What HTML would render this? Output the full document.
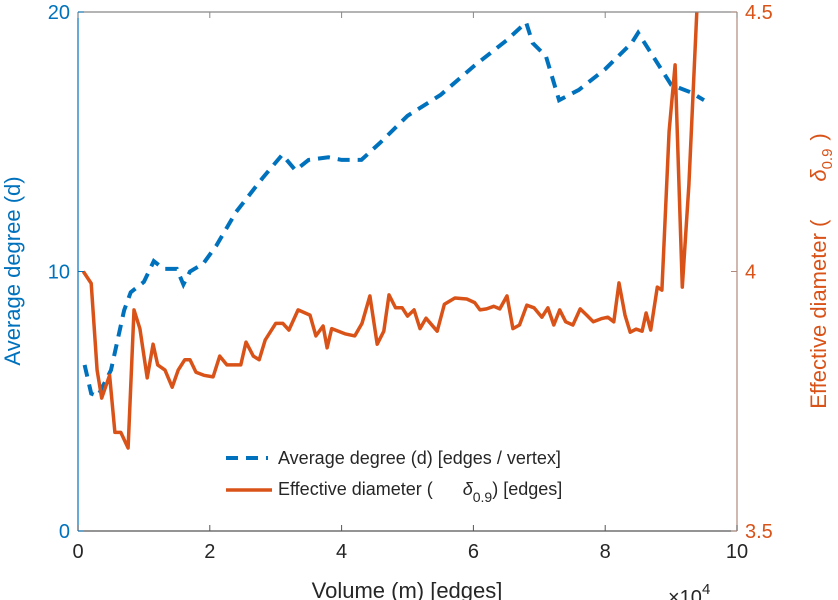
<!DOCTYPE html>
<html><head><meta charset="utf-8"><style>
html,body{margin:0;padding:0;background:#fff;}
svg{display:block;font-family:"Liberation Sans",sans-serif;}
</style></head><body>
<svg id="chart" width="838" height="600" viewBox="0 0 838 600">
<defs><clipPath id="clip"><rect x="78" y="12" width="659" height="519"/></clipPath></defs>
<g id="marks" clip-path="url(#clip)"></g>
<g id="axes"></g>
</svg>
<script>
const xTicks=[0,2,4,6,8,10];
const leftTicks=[0,10,20];
const rightTicks=[3.5,4,4.5];
const degX=[0.1,0.2,0.3,0.5,0.7,0.8,1.0,1.15,1.3,1.5,1.6,1.7,1.9,2.1,2.4,2.8,3.1,3.3,3.5,3.8,4.0,4.3,4.6,5.0,5.5,6.0,6.5,6.8,6.9,7.1,7.3,7.6,8.0,8.4,8.5,8.7,9.0,9.3,9.5];
const degY=[6.4,5.3,5.2,6.2,8.5,9.2,9.6,10.4,10.1,10.1,9.5,10.0,10.3,11.0,12.3,13.6,14.5,13.9,14.3,14.4,14.3,14.3,15.0,16.0,16.8,17.9,18.9,19.6,18.8,18.3,16.6,17.0,17.8,18.8,19.2,18.4,17.2,16.9,16.6];
const diaX=[0.08,0.2,0.29,0.36,0.48,0.56,0.65,0.76,0.85,0.94,1.05,1.14,1.21,1.32,1.43,1.52,1.62,1.7,1.79,1.91,2.05,2.15,2.26,2.47,2.55,2.66,2.75,2.84,3.0,3.11,3.2,3.34,3.52,3.61,3.72,3.78,3.85,4.05,4.2,4.31,4.43,4.54,4.64,4.72,4.82,4.92,5.0,5.1,5.19,5.28,5.45,5.56,5.72,5.9,6.02,6.1,6.2,6.31,6.4,6.51,6.6,6.7,6.81,6.92,7.04,7.13,7.22,7.31,7.4,7.51,7.62,7.72,7.82,7.94,8.04,8.13,8.21,8.3,8.38,8.47,8.56,8.62,8.69,8.79,8.86,8.97,9.06,9.17,9.27,9.39,9.5];
const diaY=[4.0,3.977,3.81,3.756,3.80,3.69,3.69,3.66,3.926,3.89,3.795,3.86,3.82,3.81,3.777,3.81,3.83,3.83,3.806,3.80,3.797,3.837,3.82,3.82,3.864,3.837,3.83,3.868,3.90,3.90,3.887,3.926,3.916,3.876,3.895,3.853,3.89,3.88,3.876,3.90,3.953,3.86,3.885,3.955,3.93,3.93,3.914,3.926,3.89,3.91,3.885,3.937,3.949,3.947,3.94,3.926,3.928,3.933,3.928,3.953,3.89,3.897,3.935,3.93,3.912,3.93,3.897,3.926,3.903,3.897,3.928,3.916,3.903,3.909,3.912,3.903,3.978,3.916,3.883,3.889,3.885,3.92,3.887,3.97,3.964,4.27,4.398,3.97,4.167,4.5,4.72];
const L=78,R=737,T=12,B=531;
const sx=v=>L+(v/10)*(R-L);
const syL=v=>B-(v/20)*(B-T);
const syR=v=>B-((v-3.5)/1)*(B-T);
const NS="http://www.w3.org/2000/svg";
function mk(tag,attrs,parent,text){const e=document.createElementNS(NS,tag);for(const k in attrs)e.setAttribute(k,attrs[k]);if(text!==undefined)e.textContent=text;parent.appendChild(e);return e;}
const marks=document.getElementById('marks'),axes=document.getElementById('axes');
const dp=degX.map((x,i)=>sx(x).toFixed(1)+','+syL(degY[i]).toFixed(1)).join(' ');
const deg=mk('polyline',{points:dp,fill:'none',stroke:'#0072BD','stroke-width':4,'stroke-dasharray':'12,8'},marks);


const pp=diaX.map((x,i)=>sx(x).toFixed(1)+','+syR(diaY[i]).toFixed(1)).join(' ');
const dia=mk('polyline',{points:pp,fill:'none',stroke:'#D95319','stroke-width':3.5,'stroke-linejoin':'round'},marks);


mk('line',{x1:L,y1:T,x2:R,y2:T,stroke:'#888','stroke-width':1.2},axes);
const xa=mk('line',{x1:L,y1:B,x2:R,y2:B,stroke:'#555','stroke-width':1.2},axes);

const la=mk('line',{x1:L,y1:T,x2:L,y2:B,stroke:'#0072BD','stroke-width':1.2},axes);

const ra=mk('line',{x1:R,y1:T,x2:R,y2:B,stroke:'#b08a7c','stroke-width':1.2},axes);

xTicks.forEach(t=>{const x=sx(t);
mk('line',{x1:x,y1:B,x2:x,y2:B-6,stroke:'#555'},axes);mk('line',{x1:x,y1:T,x2:x,y2:T+6,stroke:'#888'},axes);
const tl=mk('text',{x:x,y:B+27,'text-anchor':'middle','font-size':20,fill:'#262626'},axes,String(t));
});
leftTicks.forEach(t=>{const y=syL(t);mk('line',{x1:L,y1:y,x2:L+6,y2:y,stroke:'#0072BD'},axes);
const tl=mk('text',{x:L-8,y:y+7,'text-anchor':'end','font-size':20,fill:'#0072BD'},axes,String(t));
});
rightTicks.forEach(t=>{const y=syR(t);mk('line',{x1:R,y1:y,x2:R-6,y2:y,stroke:'#b08a7c'},axes);
const tl=mk('text',{x:R+8,y:y+7,'text-anchor':'start','font-size':20,fill:'#D95319'},axes,String(t));
});
</script>
<svg width="838" height="600" style="position:absolute;left:0;top:0">
<text x="407" y="598" text-anchor="middle" font-size="22" fill="#262626" font-family="Liberation Sans,sans-serif">Volume (m) [edges]</text>
<text x="668" y="604" font-size="20" fill="#262626" font-family="Liberation Sans,sans-serif">×10<tspan dy="-10" font-size="15">4</tspan></text>
<text transform="translate(20,271) rotate(-90)" text-anchor="middle" font-size="22" fill="#0072BD" font-family="Liberation Sans,sans-serif">Average degree (d)</text>
<text transform="translate(826,271) rotate(-90)" text-anchor="middle" font-size="22" fill="#D95319" font-family="Liberation Sans,sans-serif">Effective diameter (<tspan dx="38" font-style="italic">δ</tspan><tspan dy="6" font-size="15">0.9</tspan><tspan dy="-6" dx="8">)</tspan></text>
<g font-family="Liberation Sans,sans-serif" font-size="18" fill="#262626">
<line x1="226" y1="458" x2="268" y2="458" stroke="#0072BD" stroke-width="4" stroke-dasharray="12,8"/>
<text x="278" y="464">Average degree (d) [edges / vertex]</text>
<line x1="226" y1="490" x2="272" y2="490" stroke="#D95319" stroke-width="3.5"/>
<text x="278" y="495">Effective diameter (<tspan dx="30" font-style="italic">δ</tspan><tspan dy="7" font-size="14">0.9</tspan><tspan dy="-7">) [edges]</tspan></text>
</g>
</svg>
</body></html>
